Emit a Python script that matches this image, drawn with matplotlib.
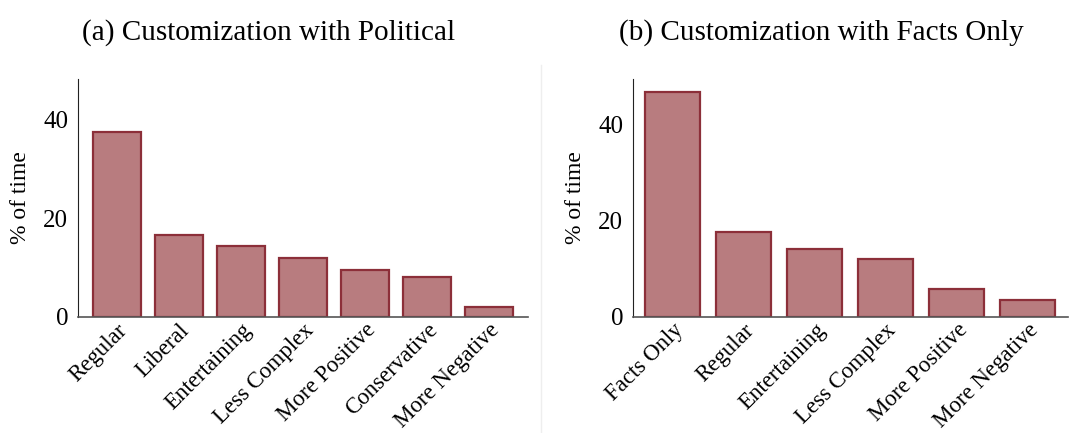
import matplotlib.pyplot as plt
from matplotlib.lines import Line2D

# panel (a)
cats_a = ["Regular", "Liberal", "Entertaining", "Less Complex",
          "More Positive", "Conservative", "More Negative"]
vals_a = [37.5, 16.6, 14.4, 11.9, 9.5, 8.05, 2.0]

# panel (b)
cats_b = ["Facts Only", "Regular", "Entertaining", "Less Complex",
          "More Positive", "More Negative"]
vals_b = [46.7, 17.7, 14.2, 12.1, 5.9, 3.5]

plt.rcParams["font.family"] = "Liberation Serif"

fill = "#b87c7f"
edge = "#8c2f39"

fig = plt.figure(figsize=(10.7, 4.33), dpi=100)
ax1 = fig.add_axes([0.0729, 0.268, 0.4206, 0.5497])
ax2 = fig.add_axes([0.5916, 0.268, 0.4065, 0.5497])

panels = [
    (ax1, cats_a, vals_a, "(a) Customization with Political", (-0.63, 6.63), 48.2, 0.251),
    (ax2, cats_b, vals_b, "(b) Customization with Facts Only", (-0.56, 5.57), 49.5, 0.768),
]

for ax, cats, vals, title, xl, ytop, tx in panels:
    x = range(len(cats))
    ax.bar(x, vals, width=0.77, color=fill, edgecolor=edge, linewidth=1.6)
    ax.set_xlim(*xl)
    ax.set_ylim(0, ytop)
    ax.set_yticks([0, 20, 40])
    ax.set_xticks(list(x))
    ax.set_xticklabels(cats, rotation=45, ha="right", rotation_mode="anchor")
    ax.tick_params(axis="x", length=0, labelsize=16.5, pad=2)
    ax.tick_params(axis="y", length=0, labelsize=18, pad=7)
    ax.set_ylabel("% of time", fontsize=17, labelpad=9)
    for s in ["top", "right"]:
        ax.spines[s].set_visible(False)
    ax.spines["left"].set_color("#222222")
    ax.spines["bottom"].set_color("#555555")
    ax.spines["bottom"].set_linewidth(1.2)
    fig.text(tx, 0.925, title, ha="center", va="center", fontsize=21)

# thin divider between the panels
fig.add_artist(Line2D([0.506, 0.506], [0.0, 0.85], color="#eeeeee", lw=1,
                      transform=fig.transFigure))

fig.savefig("out.png", dpi=100)
